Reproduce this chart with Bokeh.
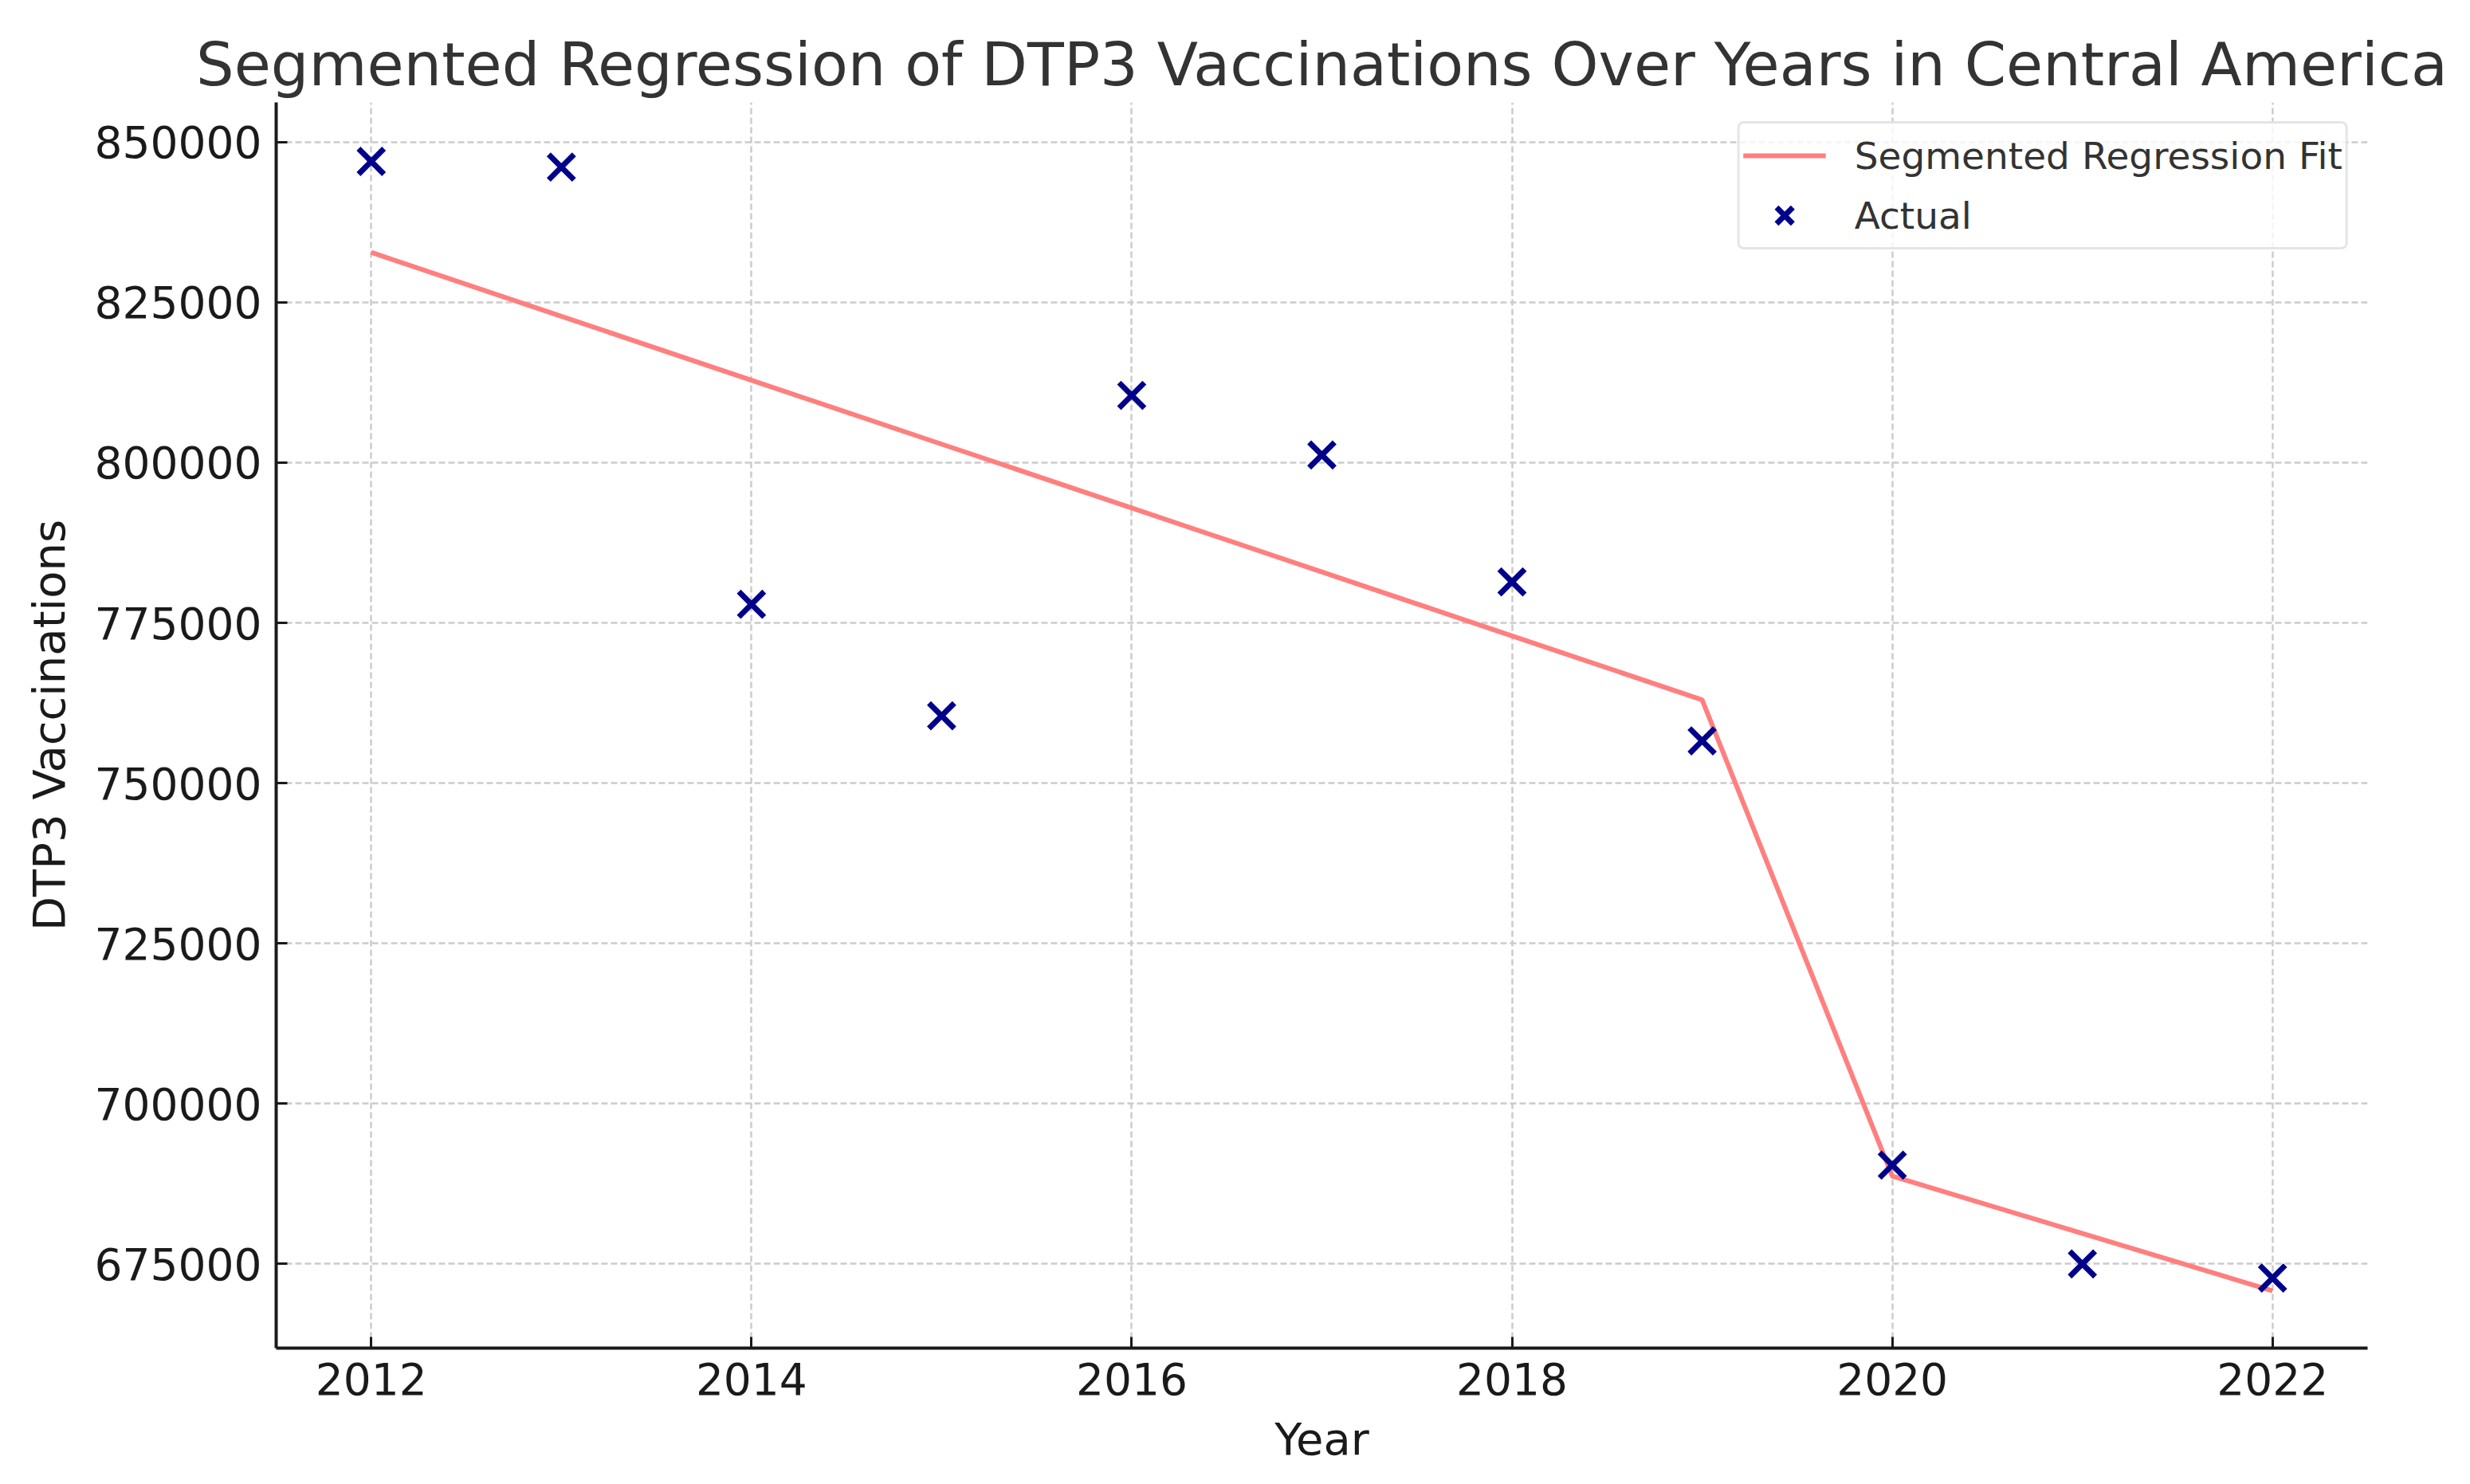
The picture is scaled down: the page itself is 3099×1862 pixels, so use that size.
from bokeh.plotting import figure
from bokeh.models import Range1d, FixedTicker, BasicTickFormatter, Legend, LegendItem
from bokeh.embed import file_html
from bokeh.resources import INLINE

# ---- data ----
years = [2012, 2013, 2014, 2015, 2016, 2017, 2018, 2019, 2020, 2021, 2022]
actual = [847000, 846100, 777900, 760500, 810500, 801200, 781400, 756600, 690400, 675000, 672800]
fit = [832800, 822830, 812860, 802890, 792920, 782950, 772980, 763000, 688700, 679750, 670800]
x_ticks = [2012, 2014, 2016, 2018, 2020, 2022]
y_ticks = [675000, 700000, 725000, 750000, 775000, 800000, 825000, 850000]

TITLE = "Segmented Regression of DTP3 Vaccinations Over Years in Central America"
FONT = "DejaVu Sans"

p = figure(
    width=3080, height=1840,
    output_backend="svg", toolbar_location=None,
    x_range=Range1d(2011.5, 2022.5), y_range=Range1d(661860, 856200),
    title=TITLE,
    min_border_left=346, min_border_right=110, min_border_top=128, min_border_bottom=145,
)

p.title.text_font = FONT
p.title.text_font_size = "75px"
p.title.text_font_style = "normal"
p.title.text_color = "#333333"
p.title.align = "center"
p.title.standoff = 8

r_fit = p.line(years, fit, line_color="#ff7f7f", line_width=6)
r_act = p.scatter(years, actual, marker="x", size=45, line_color="#00008b", line_width=7)

legend = Legend(
    items=[
        LegendItem(label="Segmented Regression Fit", renderers=[r_fit]),
        LegendItem(label="Actual", renderers=[r_act]),
    ],
    location="top_right",
    margin=24,
    padding=4,
    spacing=3,
    glyph_width=104,
    glyph_height=72,
    label_standoff=36,
    label_text_font=FONT,
    label_text_font_size="47px",
    label_text_color="#333333",
    border_line_color="#cccccc",
    border_line_width=3,
    border_radius=8,
    background_fill_color="white",
    background_fill_alpha=0.8,
)
p.add_layout(legend)

p.xaxis.ticker = FixedTicker(ticks=x_ticks)
p.yaxis.ticker = FixedTicker(ticks=y_ticks)
p.yaxis.formatter = BasicTickFormatter(use_scientific=False)
p.xaxis.axis_label = "Year"
p.yaxis.axis_label = "DTP3 Vaccinations"

for ax in (p.xaxis[0], p.yaxis[0]):
    ax.axis_line_width = 4
    ax.axis_line_color = "#1a1a1a"
    ax.major_tick_in = 14
    ax.major_tick_out = 0
    ax.major_tick_line_width = 3
    ax.major_tick_line_color = "#1a1a1a"
    ax.minor_tick_line_color = None
    ax.major_label_text_font = FONT
    ax.major_label_text_font_size = "55px"
    ax.major_label_text_color = "#1a1a1a"
    ax.axis_label_text_font = FONT
    ax.axis_label_text_font_size = "56px"
    ax.axis_label_text_font_style = "normal"
    ax.axis_label_text_color = "#1a1a1a"

p.xaxis.major_label_standoff = 18
p.yaxis.major_label_standoff = 18
p.xaxis.axis_label_standoff = 20
p.yaxis.axis_label_standoff = 22

for g in (p.xgrid[0], p.ygrid[0]):
    g.grid_line_color = "#cccccc"
    g.grid_line_width = 2.5
    g.grid_line_dash = "8 4"

p.outline_line_color = None
p.background_fill_color = "white"
p.border_fill_color = "white"

open("out.html", "w").write(file_html(p, INLINE))
